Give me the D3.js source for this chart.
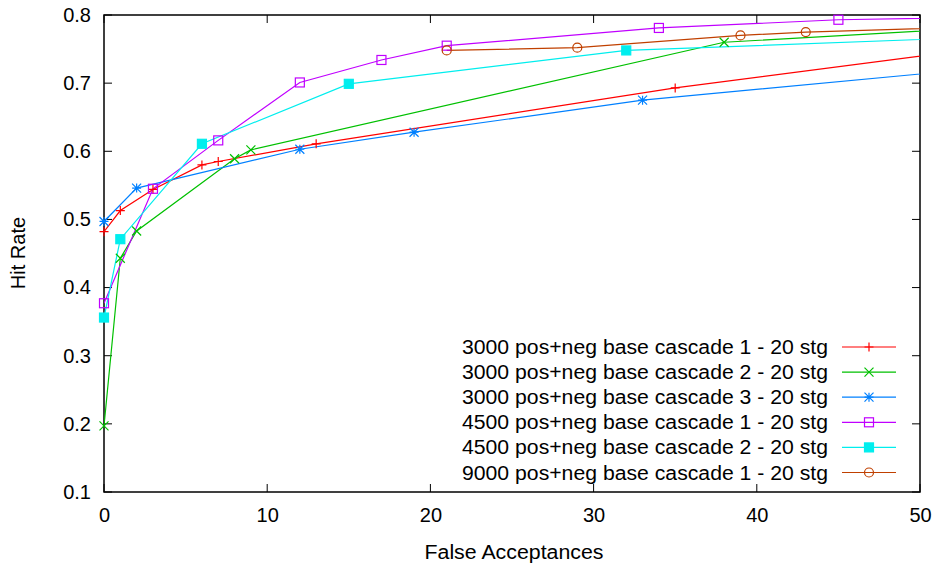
<!DOCTYPE html>
<html><head><meta charset="utf-8">
<script src="https://cdn.jsdelivr.net/npm/d3@7"></script>
<style>body{margin:0;background:#fff}svg{display:block}text{font-family:"Liberation Sans",Arial,sans-serif;fill:#000}</style>
</head><body><svg id="c" width="936" height="570"></svg>
<script>
const xTicks = [0,10,20,30,40,50];
const yTicks = [0.1,0.2,0.3,0.4,0.5,0.6,0.7,0.8];
const labels = [
 "3000 pos+neg base cascade 1 - 20 stg",
 "3000 pos+neg base cascade 2 - 20 stg",
 "3000 pos+neg base cascade 3 - 20 stg",
 "4500 pos+neg base cascade 1 - 20 stg",
 "4500 pos+neg base cascade 2 - 20 stg",
 "9000 pos+neg base cascade 1 - 20 stg"];
const colors = ["#ff0000","#00c000","#0080ff","#c000ff","#00eeee","#c04000"];
const markers = ["plus","cross","star","square","fsquare","circle"];
// [falseAcceptances, hitRate]; last point lies beyond the axis and is clipped
const s1 = [[0,0.482],[1,0.513],[3,0.544],[6,0.580],[7,0.585],[13,0.611],[35,0.693],[60,0.771]];
const s2 = [[0,0.197],[1,0.443],[2,0.483],[8,0.589],[9,0.602],[38,0.760],[60,0.790]];
const s3 = [[0,0.497],[2,0.546],[12,0.603],[19,0.628],[33,0.675],[60,0.736]];
const s4 = [[0,0.377],[3,0.545],[7,0.616],[12,0.701],[17,0.734],[21,0.755],[34,0.781],[45,0.793],[60,0.799]];
const s5 = [[0,0.356],[1,0.471],[6,0.611],[15,0.699],[32,0.748],[60,0.773]];
const s6 = [[21,0.748],[29,0.752],[39,0.770],[43,0.775],[60,0.787]];
const series = [s1,s2,s3,s4,s5,s6];

const svg = d3.select("#c");
const L=104, R=920, T=15, B=492;
const FS = 20;
const x = d3.scaleLinear().domain([0,50]).range([L,R]);
const y = d3.scaleLinear().domain([0.1,0.8]).range([B,T]);

svg.append("defs").append("clipPath").attr("id","clip")
  .append("rect").attr("x",L).attr("y",T).attr("width",R-L).attr("height",B-T);

const tl=8;
const g = svg.append("g");
yTicks.forEach(v=>{
  g.append("line").attr("x1",L).attr("x2",L+tl).attr("y1",y(v)).attr("y2",y(v)).attr("stroke","#000");
  g.append("line").attr("x1",R).attr("x2",R-tl).attr("y1",y(v)).attr("y2",y(v)).attr("stroke","#000");
});
xTicks.forEach(v=>{
  g.append("line").attr("x1",x(v)).attr("x2",x(v)).attr("y1",B).attr("y2",B-tl).attr("stroke","#000");
  g.append("line").attr("x1",x(v)).attr("x2",x(v)).attr("y1",T).attr("y2",T+tl).attr("stroke","#000");
});
const ax = d3.axisBottom(x).tickValues(xTicks).tickFormat(d3.format("d")).tickSize(0).tickPadding(16);
const gx = svg.append("g").attr("transform",`translate(0,${B})`).call(ax);
gx.select(".domain").remove();
gx.selectAll("text").attr("font-size",FS).attr("font-family","Liberation Sans, Arial, sans-serif").attr("fill","#000");
const ay = d3.axisLeft(y).tickValues(yTicks).tickFormat(d3.format(".1f")).tickSize(0).tickPadding(13);
const gy = svg.append("g").attr("transform",`translate(${L},0)`).call(ay);
gy.select(".domain").remove();
gy.selectAll("text").attr("font-size",FS).attr("font-family","Liberation Sans, Arial, sans-serif").attr("fill","#000");

svg.append("text").attr("x",514).attr("y",559).attr("text-anchor","middle").attr("font-size",FS)
  .attr("textLength",179).attr("lengthAdjust","spacingAndGlyphs").text("False Acceptances");
svg.append("text").attr("transform","translate(25,253) rotate(-90)").attr("text-anchor","middle").attr("font-size",FS).text("Hit Rate");

const line = d3.line().x(d=>x(d[0])).y(d=>y(d[1]));

function marker(sel, type, c){
  const s=4.5;
  if(type==="plus"){
    sel.append("path").attr("d",`M${-s},0H${s}M0,${-s}V${s}`).attr("stroke",c).attr("fill","none");
  } else if(type==="cross"){
    sel.append("path").attr("d",`M${-s},${-s}L${s},${s}M${-s},${s}L${s},${-s}`).attr("stroke",c).attr("fill","none");
  } else if(type==="star"){
    sel.append("path").attr("d",`M${-s},0H${s}M0,${-s}V${s}M${-s},${-s}L${s},${s}M${-s},${s}L${s},${-s}`).attr("stroke",c).attr("fill","none");
  } else if(type==="square"){
    sel.append("rect").attr("x",-s).attr("y",-s).attr("width",2*s).attr("height",2*s).attr("stroke",c).attr("fill","none");
  } else if(type==="fsquare"){
    sel.append("rect").attr("x",-s).attr("y",-s).attr("width",2*s).attr("height",2*s).attr("stroke",c).attr("fill",c);
  } else if(type==="circle"){
    sel.append("circle").attr("r",s).attr("stroke",c).attr("fill","none");
  }
}

// border first so markers at the edge sit on top of it
svg.append("rect").attr("x",L).attr("y",T).attr("width",R-L).attr("height",B-T).attr("fill","none").attr("stroke","#000").attr("stroke-width",1.5);

const plot = svg.append("g").attr("clip-path","url(#clip)");
series.forEach((s,i)=>{
  plot.append("path").datum(s).attr("d",line).attr("fill","none").attr("stroke",colors[i]).attr("stroke-width",1.2);
});
const mk = svg.append("g");
series.forEach((s,i)=>{
  s.filter(d=>d[0]<=50).forEach(d=>{
    const m = mk.append("g").attr("transform",`translate(${x(d[0])},${y(d[1])})`).attr("stroke-width",1.2);
    marker(m, markers[i], colors[i]);
  });
});

labels.forEach((t,i)=>{
  const yy = 347 + i*25.1;
  svg.append("text").attr("x",828).attr("y",yy).attr("dy","0.35em").attr("text-anchor","end").attr("font-size",FS)
    .attr("textLength",366).attr("lengthAdjust","spacingAndGlyphs").text(t);
  svg.append("line").attr("x1",842).attr("x2",896).attr("y1",yy).attr("y2",yy).attr("stroke",colors[i]).attr("stroke-width",1.2);
  const m = svg.append("g").attr("transform",`translate(869,${yy})`).attr("stroke-width",1.2);
  marker(m, markers[i], colors[i]);
});
</script></body></html>
